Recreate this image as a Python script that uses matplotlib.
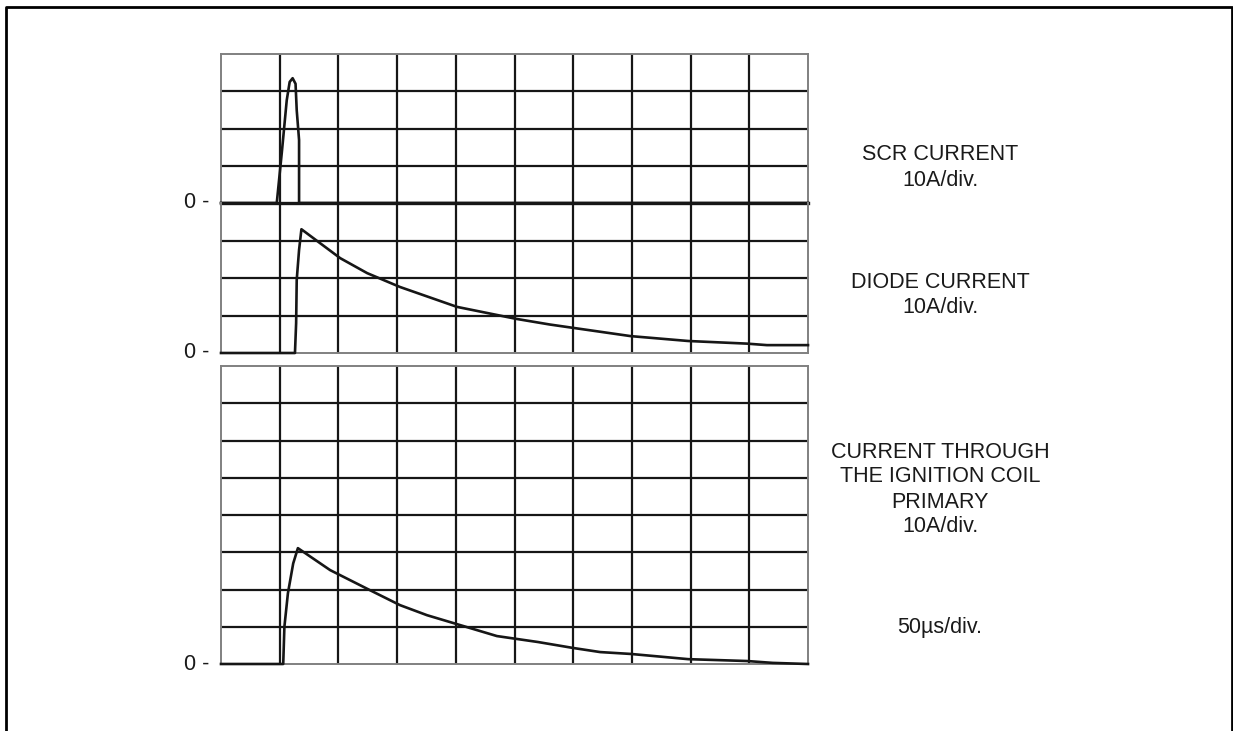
import numpy as np
import matplotlib.pyplot as plt
from matplotlib.lines import Line2D

plt.rcParams['font.family'] = ['Liberation Sans', 'DejaVu Sans']

W, H = 1233, 731

# time in divisions (50us/div), current in divisions (10A/div)
scr_t = [0, 0.95, 1.04, 1.12, 1.17, 1.22, 1.27, 1.29, 1.33, 1.33, 10]
scr_i = [0, 0, 1.42, 2.76, 3.25, 3.35, 3.2, 2.49, 1.69, 0, 0]

diode_t = [0, 1.26, 1.28, 1.29, 1.33, 1.37, 2.03, 2.49, 3.05, 4.02, 5.03, 5.6, 6.0, 6.98, 7.96, 8.96, 9.3, 10]
diode_i = [0, 0, 0.8, 1.95, 2.75, 3.3, 2.53, 2.13, 1.76, 1.23, 0.91, 0.76, 0.67, 0.45, 0.32, 0.25, 0.21, 0.21]

coil_t = [0, 1.06, 1.08, 1.14, 1.23, 1.31, 1.86, 2.54, 3.05, 3.51, 4.02, 4.70, 5.40, 6.0, 6.46, 6.98, 7.96, 8.96, 9.4, 10]
coil_i = [0, 0, 1.0, 1.9, 2.7, 3.11, 2.52, 1.98, 1.58, 1.31, 1.07, 0.75, 0.59, 0.43, 0.32, 0.27, 0.13, 0.08, 0.03, 0]

labels = [
    (155, "SCR CURRENT"), (180, "10A/div."),
    (282, "DIODE CURRENT"), (308, "10A/div."),
    (452, "CURRENT THROUGH"), (477, "THE IGNITION COIL"),
    (503, "PRIMARY"), (527, "10A/div."),
    (628, "50\u00b5s/div."),
]
zero_rows = [203, 353, 664]

fig = plt.figure(figsize=(W / 100, H / 100), dpi=100)
fig.patch.set_facecolor('white')


def px_axes(x0, y0, x1, y1):
    ax = fig.add_axes([x0 / W, 1 - y1 / H, (x1 - x0) / W, (y1 - y0) / H])
    ax.patch.set_visible(False)
    return ax


def style_grid(ax, ndiv_y, hide=()):
    ax.set_xlim(0, 10)
    ax.set_ylim(0, ndiv_y)
    ax.set_xticks([])
    ax.set_yticks([])
    for k in range(1, 10):
        ax.axvline(k, color='#161616', lw=1.6, zorder=1)
    for k in range(1, ndiv_y):
        ax.axhline(k, color='#161616', lw=1.6, zorder=1)
    for name, sp in ax.spines.items():
        sp.set_color('#808080')
        sp.set_linewidth(1.4)
        if name in hide:
            sp.set_visible(False)


ax_scr = px_axes(221, 54, 808, 203)
style_grid(ax_scr, 4, hide=('bottom',))
ax_scr.plot(scr_t, scr_i, color='#161616', lw=1.9, clip_on=False, zorder=3)
ax_scr.plot([0, 10], [0, 0], color='#161616', lw=2.4, clip_on=False, zorder=3)

ax_diode = px_axes(221, 203, 808, 353)
style_grid(ax_diode, 4, hide=('top',))
ax_diode.plot(diode_t, diode_i, color='#161616', lw=1.9, clip_on=False, zorder=3)

ax_coil = px_axes(221, 366, 808, 664)
style_grid(ax_coil, 8)
ax_coil.plot(coil_t, coil_i, color='#161616', lw=1.9, clip_on=False, zorder=3)

for y in zero_rows:
    fig.text(209 / W, 1 - y / H, "0 -", ha='right', va='center', fontsize=15.5, color='#1a1a1a')

for y, s in labels:
    fig.text(940 / W, 1 - y / H, s, ha='center', va='center', fontsize=15.5, color='#1a1a1a')

# outer frame (open at the bottom)
frame_x = [5.5 / W, 5.5 / W, 1231.5 / W, 1231.5 / W]
frame_y = [0, 1 - 7 / H, 1 - 7 / H, 0]
fig.add_artist(Line2D(frame_x, frame_y, color='black', lw=2.0, transform=fig.transFigure))

fig.savefig('out.png', dpi=100, facecolor='white')
